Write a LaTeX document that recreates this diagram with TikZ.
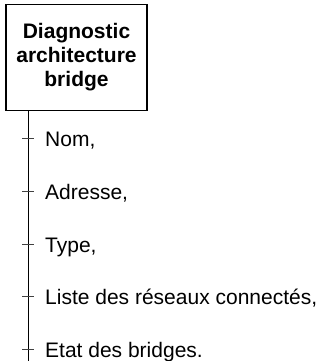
\documentclass[tikz,border=0pt]{standalone}
\usepackage{fontspec}
\setmainfont{Liberation Sans}
\begin{document}
\begin{tikzpicture}[x=1pt,y=-1pt,
  titlebox/.style={draw, line width=1.1pt, minimum width=141pt, minimum height=106pt,
    align=center, inner sep=0pt, font=\bfseries\fontsize{21}{24}\selectfont},
  stem/.style={line width=1pt},
  tickmark/.style={inner sep=0pt, minimum width=11pt, minimum height=0pt},
  tickline/.style={line width=0.6pt, draw=black!75},
  item/.style={anchor=base west, inner sep=0pt, font=\fontsize{21}{25}\selectfont}]
\useasboundingbox (0,0) rectangle (321,361);
% header box
\node[titlebox] (box) at (76.5,57.5) {Diagnostic\\architecture\\bridge};
% vertical stem running down from the box
\coordinate (stemend) at (28,361);
\draw[stem] (box.south -| stemend) -- (stemend);
% ticks on the stem and their labels
\foreach \i/\y/\t in {1/138/{Nom,},2/191/{Adresse,},3/244/{Type,},4/296/{Liste des réseaux connectés,},5/349/{Etat des bridges.}}{
  \node[tickmark] (k\i) at (28,\y) {};
  \draw[tickline] (k\i.west) -- (k\i.east);
  \node[item] (n\i) at (45,\y+8) {\t};
}
\end{tikzpicture}
\end{document}
